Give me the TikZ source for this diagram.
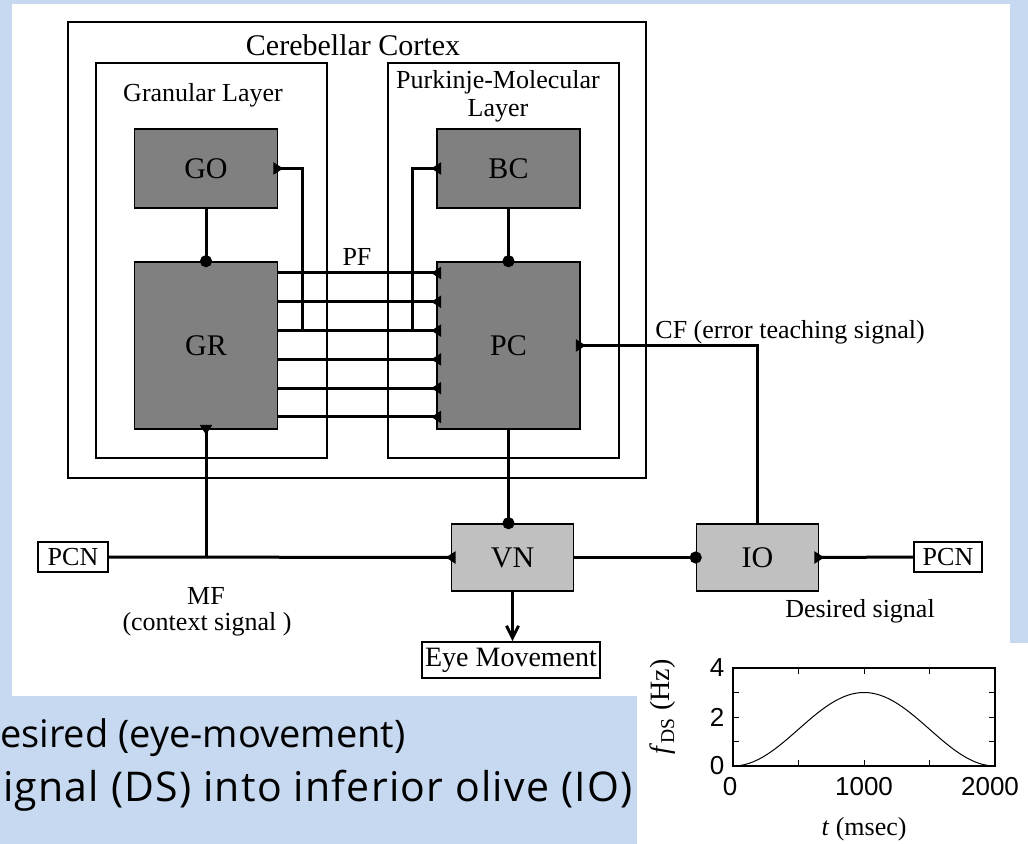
\documentclass[tikz,border=0pt]{standalone}
\usepackage{fontspec}
\setmainfont{Liberation Serif}
\newfontfamily\slidefont{Open Sans}
\newfontfamily\plotfont{Liberation Sans}
\usetikzlibrary{arrows.meta, positioning}
\definecolor{slideblue}{HTML}{C6D9F1}
\definecolor{celldark}{HTML}{808080}
\definecolor{celllight}{HTML}{C0C0C0}

\begin{document}
\begin{tikzpicture}[x=0.5pt, y=-0.5pt,
    >={Straight Barb[length=6pt, width=6pt]},
    layer/.style={draw, line width=0.8pt, minimum width=115.5pt, minimum height=197.5pt, inner sep=0pt},
    cell/.style={draw, line width=0.8pt, fill=celldark, minimum width=71.5pt, inner sep=0pt, font=\fontsize{15}{17}\selectfont},
    relay/.style={draw, line width=0.8pt, fill=celllight, minimum width=61pt, minimum height=33.5pt, inner sep=0pt, font=\fontsize{15}{17}\selectfont},
    outbox/.style={draw, line width=0.8pt, fill=white, inner sep=0pt, font=\fontsize{13}{15}\selectfont},
    lbl/.style={inner sep=0pt, align=center, font=\fontsize{13}{14}\selectfont},
    slide/.style={anchor=base west, inner sep=0pt, font=\slidefont\fontsize{19}{23}\selectfont},
    ticklbl/.style={inner sep=0pt, font=\plotfont\fontsize{13}{15}\selectfont},
    fiber/.style={line width=1.5pt},
    excite/.style={fiber, -{Triangle[reversed, length=5pt, width=6pt]}, shorten >=-2.5pt},
    inhib/.style={fiber, -{Circle[length=6pt]}, shorten >=-3pt}]

    \useasboundingbox (0,0) rectangle (1028,844);
    \clip (0,0) rectangle (1028,844);

    % slide background
    \fill[slideblue] (0,0) rectangle (1028,844);
    \fill[white] (12,4) rectangle (1010,696);
    \fill[white] (637,643) rectangle (1028,844);
    \fill[slideblue] (0,696) rectangle (637,844);
    \node[slide] (slideA) at (-28,747) {Desired (eye-movement)};
    \node[slide, font=\slidefont\fontsize{20.5}{24}\selectfont\addfontfeature{LetterSpace=3}] (slideB) at (-18,801) {signal (DS) into inferior olive (IO)};

    % layers
    \node[layer, minimum width=289pt, minimum height=228pt] (cortex) at (357,250) {};
    \node[lbl, font=\fontsize{15}{17}\selectfont] (cortexlbl) at (353,45) {Cerebellar Cortex};
    \node[layer] (granular) at (211.5,260.5) {};
    \node[lbl] (granlbl) at (203,95) {Granular Layer};
    \node[layer] (purkinje) at (503.5,260.5) {};
    \node[lbl] (purklbl) at (498,96) {Purkinje-Molecular\\Layer};

    % cells
    \node[cell, minimum height=39.5pt] (GO) at (206,168.5) {GO};
    \node[cell, minimum height=83.5pt] (GR) at (206,345.5) {GR};
    \node[cell, minimum height=39.5pt] (BC) at (508.5,168.5) {BC};
    \node[cell, minimum height=83.5pt] (PC) at (508.5,345.5) {PC};
    \node[relay] (VN) at (512.5,557.5) {VN};
    \node[relay] (IO) at (757.5,557.5) {IO};
    \node[outbox, minimum width=35pt, minimum height=15pt] (PCNl) at (73,557) {PCN};
    \node[outbox, minimum width=34pt, minimum height=15pt] (PCNr) at (948,557) {PCN};
    \node[outbox, minimum width=89pt, minimum height=18pt, font=\fontsize{14}{16}\selectfont] (eye) at (511,660) {Eye Movement};

    % labels
    \node[lbl] (pflbl) at (357,257) {PF};
    \node[lbl, anchor=west] (cflbl) at (655,332) {CF (error teaching signal)};
    \node[lbl] (mflbl) at (206,596) {MF};
    \node[lbl] (ctxlbl) at (207,624) {(context signal )};
    \node[lbl] (dslbl) at (860,611) {Desired signal};

    % parallel fibers
    \foreach \i in {0,...,5}
        \coordinate (pf\i) at (0,{273+28.8*\i});
    \foreach \i in {0,...,5}
        \draw[excite] (GR.east |- pf\i) -- (PC.west |- pf\i);
    \coordinate (gofb) at (302,330.6);
    \coordinate (bcfb) at (412,330.6);
    \draw[excite] (gofb) |- (GO.east);
    \draw[excite] (bcfb) |- (BC.west);

    \draw[inhib] (GO.south) -- (GR.north);
    \draw[inhib] (BC.south) -- (PC.north);
    \draw[inhib] (PC.south) -- (PC.south |- VN.north);
    \draw[inhib] (VN.east) -- (IO.west);

    % mossy fiber, climbing fiber
    \draw[excite] (PCNl.east) -- (VN.west);
    \coordinate (mfj) at (GR.south |- PCNl.east);
    \draw[excite] (mfj) -- (GR.south);
    \draw[excite] (IO.north) |- (PC.east);
    \draw[excite] (PCNr.west) -- (IO.east);
    \draw[fiber, ->] (VN.south) -- (VN.south |- eye.north);

    % desired signal plot
    \begin{scope}[shift={(733,766)}, x=0.0655pt, y=12.25pt]
        \draw[line width=0.6pt] (0,0) rectangle (2000,4);
        \foreach \t in {0,500,...,2000} {
            \draw[line width=0.5pt] (\t,0) -- ++(0,3pt);
            \draw[line width=0.5pt] (\t,4) -- ++(0,-3pt);
        }
        \foreach \v in {1,2,3} {
            \draw[line width=0.5pt] (0,\v) -- ++(3pt,0);
            \draw[line width=0.5pt] (2000,\v) -- ++(-3pt,0);
        }
        \draw[line width=0.5pt] plot[domain=0:2000, samples=81, smooth] (\x, {1.5*(1-cos(0.18*\x))});
    \end{scope}
    \node[ticklbl] (xt0) at (730,787) {0};
    \node[ticklbl] (xt1) at (864,787) {1000};
    \node[ticklbl] (xt2) at (990,787) {2000};
    \node[ticklbl] (yt0) at (717,766) {0};
    \node[ticklbl] (yt2) at (717,717) {2};
    \node[ticklbl] (yt4) at (717,668) {4};
    \node[inner sep=0pt, font=\fontsize{13}{15}\selectfont] (xlbl) at (864,829) {\textit{t} (msec)};
    \node[rotate=90, inner sep=0pt, font=\fontsize{14}{16}\selectfont] (ylbl) at (663,707) {\textit{f}\textsubscript{DS} (Hz)};
\end{tikzpicture}
\end{document}
